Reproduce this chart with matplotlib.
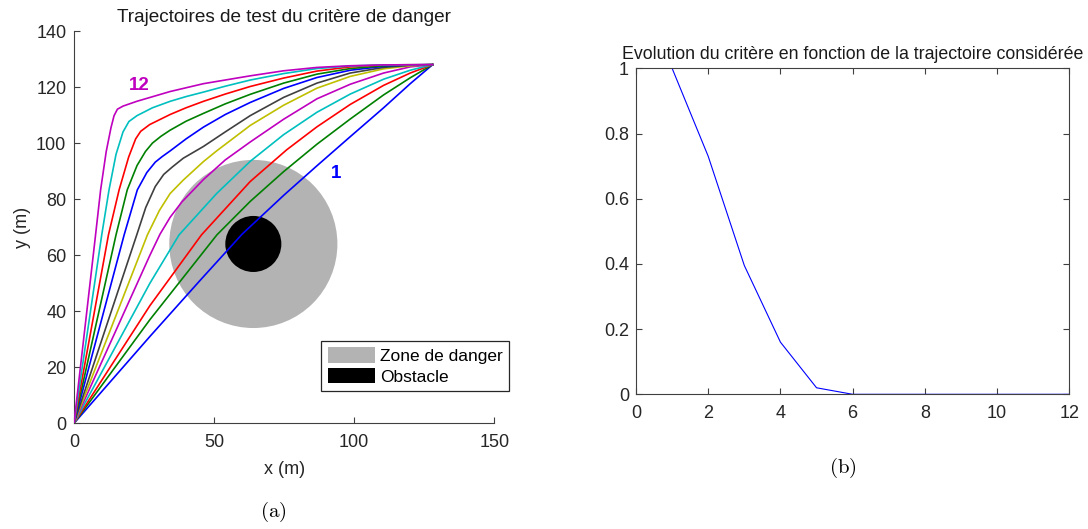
import matplotlib
matplotlib.use("Agg")
import matplotlib.pyplot as plt
from matplotlib.patches import Circle, Patch

plt.rcParams['font.family'] = ['Liberation Sans', 'DejaVu Sans']
plt.rcParams['mathtext.fontset'] = 'cm'

# ---------------- data: left panel (trajectories) -------------
traj1_x = [0, 27.1, 45, 60, 75, 86.7, 98.6, 110.5, 120, 128]
traj1_y = [0, 31.0, 51, 67.5, 81.5, 91.9, 102.3, 112.6, 121.2, 128]
traj2_x = [0, 27.1, 51, 62.9, 74.8, 86.7, 98.6, 110.5, 120, 128]
traj2_y = [0, 37.0, 67.25, 79.2, 89.8, 99.6, 108.6, 117.2, 123.3, 128]
traj3_x = [0, 27.1, 45.5, 62.9, 75.9, 86.7, 98.6, 110.5, 120, 128]
traj3_y = [0, 42.0, 67.25, 86.3, 97.6, 105.8, 113.8, 120.6, 125.0, 128]
traj4_x = [0, 27.1, 37.5, 50.9, 62.9, 74.8, 86.7, 98.6, 110.5, 120, 128]
traj4_y = [0, 50.0, 67.25, 82, 93.5, 103, 111, 117.5, 122.8, 126, 128]
traj5_x = [0, 27.1, 30.7, 34.3, 38.5, 46.2, 54, 62.9, 74.8, 86.7, 98.6, 110.5, 120, 128]
traj5_y = [0, 60.0, 67.5, 73.5, 79, 87, 94, 100.4, 108.5, 115.8, 121, 125, 127.2, 128]
traj6_x = [0, 26.2, 30.5, 34.3, 39, 46.2, 50.9, 62.9, 74.8, 86.7, 98.6, 110.5, 120, 128]
traj6_y = [0, 67.25, 76, 82, 86.8, 93.4, 97.2, 106.3, 113.5, 119.6, 123.8, 126.5, 127.6, 128]
traj7_x = [0, 22.4, 25.6, 29, 32, 35, 39, 46.2, 54, 62.9, 74.8, 86.7, 98.6, 110.5, 120, 128]
traj7_y = [0, 67.25, 77, 84.5, 88.8, 91.4, 94.6, 98.8, 104, 109.8, 116.3, 121.4, 125, 127, 127.8, 128]
traj8_x = [0, 17.9, 22.6, 26, 29, 31.5, 34.3, 40, 46.2, 54, 62.9, 74.8, 86.7, 98.6, 110.5, 120, 128]
traj8_y = [0, 67.25, 83.3, 89.5, 93.2, 95.2, 97.2, 101.5, 105.7, 110.2, 114.5, 119.5, 123.4, 126, 127.4, 127.9, 128]
traj9_x = [0, 15, 19, 22.5, 25.5, 28, 31, 34.3, 40, 46.2, 54, 62.9, 74.8, 86.7, 98.6, 110.5, 128]
traj9_y = [0, 67.25, 83.3, 92, 97, 100, 102.4, 104.6, 107.8, 110.6, 114, 117.4, 121.4, 124.6, 126.6, 127.6, 128]
traj10_x = [0, 12.3, 16.1, 19.5, 22, 23.8, 27, 34.3, 40, 46.2, 54, 62.9, 74.8, 86.7, 98.6, 110.5, 128]
traj10_y = [0, 67.25, 83.3, 95, 101.5, 104.2, 106.6, 110.2, 112.6, 114.9, 117.5, 120.2, 123.2, 125.7, 127.2, 127.9, 128]
traj11_x = [0, 9.9, 12.5, 15, 17.5, 19.6, 22.5, 28, 34.3, 40, 46.2, 54, 62.9, 74.8, 86.7, 98.6, 110.5, 128]
traj11_y = [0, 67.25, 83.3, 96, 104, 107.7, 109.8, 112.6, 114.9, 116.6, 118.2, 120.3, 122.5, 124.8, 126.6, 127.5, 127.9, 128]
traj12_x = [0, 7.5, 9.5, 11.5, 13.2, 14.3, 15.5, 17.5, 22.4, 34.3, 46.2, 58.1, 62.9, 74.8, 86.7, 98.6, 110.5, 128]
traj12_y = [0, 65.5, 83.3, 97, 105.5, 109.8, 112.1, 113.2, 114.9, 118.4, 121.2, 123.2, 124.0, 125.8, 127.0, 127.6, 127.9, 128]

traj_x = [traj1_x, traj2_x, traj3_x, traj4_x, traj5_x, traj6_x,
          traj7_x, traj8_x, traj9_x, traj10_x, traj11_x, traj12_x]
traj_y = [traj1_y, traj2_y, traj3_y, traj4_y, traj5_y, traj6_y,
          traj7_y, traj8_y, traj9_y, traj10_y, traj11_y, traj12_y]

obstacle_center = (64, 64)
danger_radius = 30
obstacle_radius = 10

# ---------------- data: right panel -------------
traj_index = [1, 2, 3, 4, 5, 6, 7, 8, 9, 10, 11, 12]
criterion = [1.0, 0.73, 0.395, 0.16, 0.02, 0, 0, 0, 0, 0, 0, 0]

left_xticks = [0, 50, 100, 150]
left_yticks = [0, 20, 40, 60, 80, 100, 120, 140]
right_xticks = [0, 2, 4, 6, 8, 10, 12]
right_yticks = [0, 0.2, 0.4, 0.6, 0.8, 1]
right_yticklabels = ['0', '0.2', '0.4', '0.6', '0.8', '1']

# MATLAB (old) colour order
colour_order = [(0, 0, 1), (0, 0.5, 0), (1, 0, 0), (0, 0.75, 0.75),
                (0.75, 0, 0.75), (0.75, 0.75, 0), (0.25, 0.25, 0.25)]

W, H = 1088, 529
fig = plt.figure(figsize=(W / 100, H / 100), dpi=100)

axis_col = '#404040'
tick_fs = 13

# ---------------- left panel -------------
axL = fig.add_axes([74 / W, 1 - 423.3 / H, 420.3 / W, 392.3 / H])
axL.add_patch(Circle(obstacle_center, danger_radius, facecolor=(0.7, 0.7, 0.7),
                     edgecolor='none', zorder=1))
axL.add_patch(Circle(obstacle_center, obstacle_radius, facecolor='black',
                     edgecolor='none', zorder=1.5))
for i, (xs, ys) in enumerate(zip(traj_x, traj_y)):
    axL.plot(xs, ys, color=colour_order[i % 7], lw=1.2, zorder=3,
             solid_joinstyle='round')
axL.set_xlim(0, 150)
axL.set_ylim(0, 140)
axL.set_xticks(left_xticks)
axL.set_yticks(left_yticks)
for s in ['top', 'right']:
    axL.spines[s].set_visible(False)
for s in ['left', 'bottom']:
    axL.spines[s].set_color(axis_col)
    axL.spines[s].set_linewidth(0.8)
axL.tick_params(direction='in', length=4, width=0.8, color=axis_col,
                labelsize=tick_fs, labelcolor='#262626')
axL.tick_params(axis='x', pad=8)
axL.tick_params(axis='y', pad=5.5)
axL.text(23.2, 120.6, '12', color=(0.75, 0, 0.75), fontsize=13.5, fontweight='bold',
         ha='center', va='center')
axL.text(93.6, 89.2, '1', color=(0, 0, 1), fontsize=13.5, fontweight='bold',
         ha='center', va='center')
axL.set_title('Trajectoires de test du critère de danger', fontsize=13.7, pad=6.5,
              color='#1a1a1a')
axL.set_xlabel('x (m)', fontsize=13, va='center', color='#262626')
axL.xaxis.set_label_coords(0.5, (423.3 - 469.5) / 392.3)
axL.set_ylabel('y (m)', fontsize=13, va='center', color='#262626')
axL.yaxis.set_label_coords((22 - 74) / 420.3, 0.5)
handles = [Patch(facecolor=(0.7, 0.7, 0.7), edgecolor='none', label='Zone de danger'),
           Patch(facecolor='black', edgecolor='none', label='Obstacle')]
leg = axL.legend(handles=handles, loc='lower right',
                 bbox_to_anchor=((509.3 - 74) / 420.3, (423.3 - 390.7) / 392.3),
                 borderaxespad=0, fontsize=12.5, fancybox=False, framealpha=1,
                 edgecolor='#262626', handlelength=2.75, handleheight=1.0,
                 handletextpad=0.3, borderpad=0.35, labelspacing=0.22)
leg.get_frame().set_linewidth(0.9)

# ---------------- right panel -------------
axR = fig.add_axes([636 / W, 1 - 394.3 / H, 433.3 / W, 326 / H])
axR.plot(traj_index, criterion, color='blue', lw=0.8)
axR.set_xlim(0, 12)
axR.set_ylim(0, 1)
axR.set_xticks(right_xticks)
axR.set_yticks(right_yticks)
axR.set_yticklabels(right_yticklabels)
for s in axR.spines.values():
    s.set_color(axis_col)
    s.set_linewidth(0.8)
axR.tick_params(direction='in', length=4, width=0.8, color=axis_col,
                labelsize=tick_fs, labelcolor='#262626',
                top=True, right=True)
axR.tick_params(axis='x', pad=8)
axR.tick_params(axis='y', pad=5)
axR.set_title('Evolution du critère en fonction de la trajectoire considérée',
              fontsize=12.8, pad=6.5, color='#1a1a1a')

# ---------------- captions -------------
fig.text(273 / W, 1 - 512 / H, r'$\mathrm{(a)}$', fontsize=15, ha='center', va='center')
fig.text(843 / W, 1 - 468 / H, r'$\mathrm{(b)}$', fontsize=15, ha='center', va='center')

fig.savefig('out.png', dpi=100)
